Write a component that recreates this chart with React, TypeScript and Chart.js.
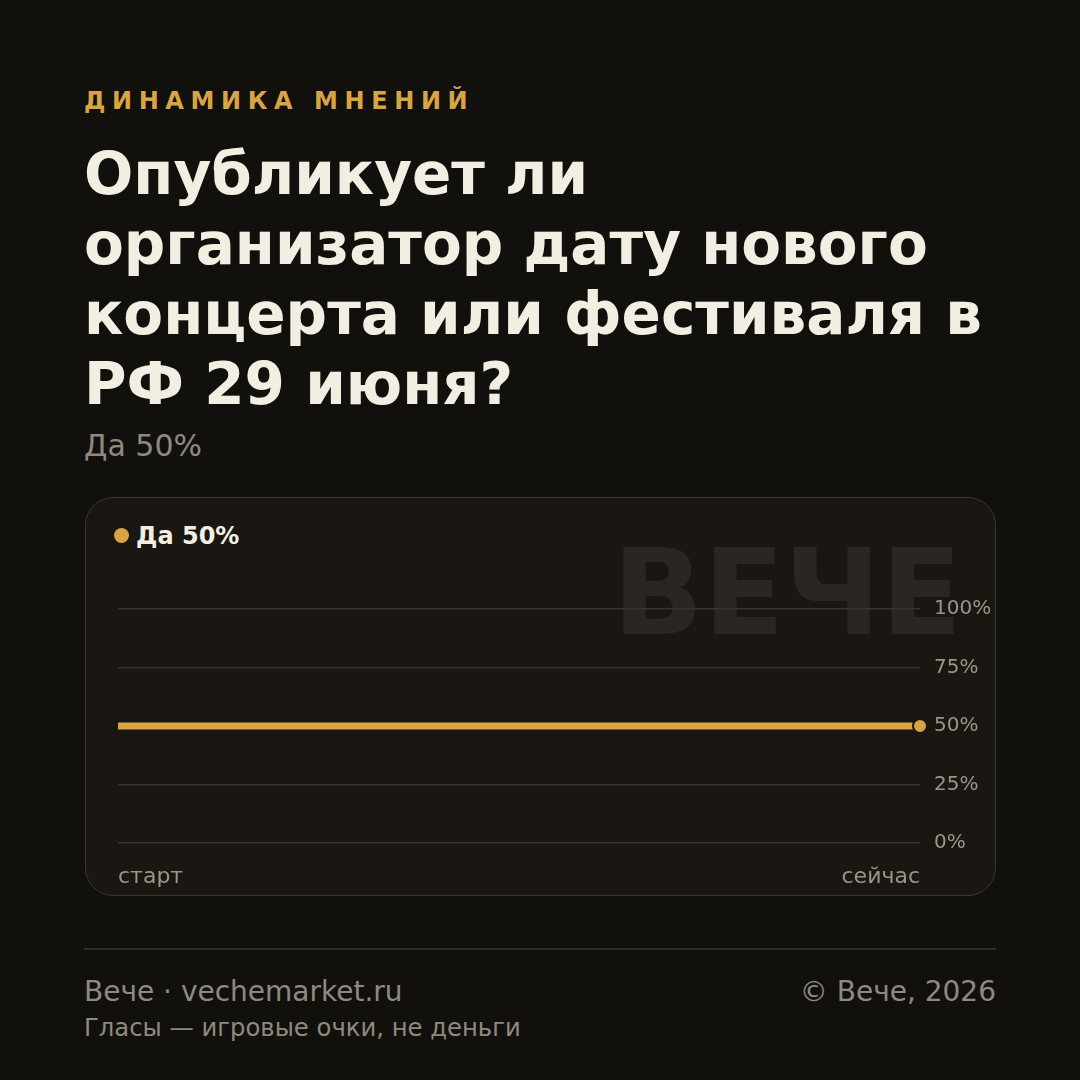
import React, { useEffect, useRef } from "react";
import { Chart, registerables } from "chart.js";

Chart.register(...registerables);

const categories = ["старт", "сейчас"];
const yesValues = [50, 50];
const yTicks = [0, 25, 50, 75, 100];
const seriesName = "Да 50%";

const BG = "#12100d";
const CARD = "#1a1713";
const GOLD = "#d9a444";
const MUTED = "#8f8a7e";
const TICK = "#9b9588";
const FONT = "'DejaVu Sans', sans-serif";

export default function App() {
  const ref = useRef<HTMLCanvasElement | null>(null);

  useEffect(() => {
    document.body.style.margin = "0";
    document.body.style.background = BG;
    const ctx = ref.current!;
    const chart = new Chart(ctx, {
      type: "line",
      data: {
        labels: categories,
        datasets: [
          {
            label: seriesName,
            data: yesValues,
            borderColor: GOLD,
            backgroundColor: GOLD,
            borderWidth: 7,
            borderCapStyle: "butt",
            pointRadius: yesValues.map((_, i) => (i === yesValues.length - 1 ? 7 : 0)),
            pointHoverRadius: 7,
            pointBackgroundColor: GOLD,
            pointBorderColor: CARD,
            pointBorderWidth: 2,
            clip: false as any,
            tension: 0,
          },
        ],
      },
      options: {
        animation: false,
        responsive: false,
        maintainAspectRatio: false,
        layout: { padding: { left: 32, top: 110, right: 0, bottom: 0 } },
        plugins: { legend: { display: false }, tooltip: { enabled: false } },
        scales: {
          x: {
            type: "category",
            offset: false,
            grid: { display: false, drawTicks: false },
            border: { display: false },
            ticks: {
              align: "inner",
              color: TICK,
              font: { family: FONT, size: 22 },
              padding: 21,
              maxRotation: 0,
              autoSkip: false,
            },
            afterFit: (s: any) => {
              s.height = 53;
            },
          },
          y: {
            position: "right",
            min: 0,
            max: 100,
            afterBuildTicks: (s: any) => {
              s.ticks = yTicks.map((v) => ({ value: v }));
            },
            grid: { color: "#37332d", lineWidth: 1.5, drawTicks: false },
            border: { display: false },
            ticks: {
              color: TICK,
              font: { family: FONT, size: 20 },
              padding: 14,
              callback: (v: any) => `${v}%`,
            },
            afterFit: (s: any) => {
              s.width = 76;
            },
          },
        },
      },
    });
    return () => chart.destroy();
  }, []);

  const abs = (o: React.CSSProperties): React.CSSProperties => ({ position: "absolute", ...o });

  return (
    <div
      style={{
        position: "absolute",
        left: 0,
        top: 0,
        width: 1080,
        height: 1080,
        background: BG,
        fontFamily: FONT,
        overflow: "hidden",
      }}
    >
      <div
        style={abs({
          left: 84,
          top: 89,
          fontSize: 24,
          lineHeight: "24px",
          fontWeight: 700,
          letterSpacing: "6.6px",
          color: GOLD,
          whiteSpace: "nowrap",
        })}
      >
        ДИНАМИКА МНЕНИЙ
      </div>
      <div
        style={abs({
          left: 84,
          top: 139,
          width: 930,
          fontSize: 58,
          lineHeight: "70px",
          fontWeight: 700,
          color: "#f3eee2",
        })}
      >
        Опубликует ли
        <br />
        организатор дату нового
        <br />
        концерта или фестиваля в
        <br />
        РФ 29 июня?
      </div>
      <div style={abs({ left: 84, top: 431, fontSize: 30, lineHeight: "30px", color: MUTED })}>Да 50%</div>

      <div
        style={abs({
          left: 85,
          top: 497,
          width: 911,
          height: 399,
          boxSizing: "border-box",
          background: CARD,
          border: "1px solid #3a362f",
          borderRadius: 28,
        })}
      />
      <div
        style={abs({
          left: 500,
          width: 462,
          top: 534,
          textAlign: "right",
          fontSize: 119,
          lineHeight: "119px",
          fontWeight: 700,
          color: "#2a2621",
          whiteSpace: "nowrap",
        })}
      >
        ВЕЧЕ
      </div>
      <div
        style={abs({
          left: 114,
          top: 528,
          width: 15,
          height: 15,
          borderRadius: "50%",
          background: GOLD,
        })}
      />
      <div
        style={abs({
          left: 136,
          top: 524,
          fontSize: 24,
          lineHeight: "24px",
          fontWeight: 700,
          color: "#f3eee2",
          whiteSpace: "nowrap",
        })}
      >
        {seriesName}
      </div>
      <canvas ref={ref} width={910} height={397} style={abs({ left: 86, top: 499, width: 910, height: 397 })} />

      <div style={abs({ left: 84, top: 948, width: 912, height: 2, background: "#2e2b26" })} />
      <div style={abs({ left: 84, top: 978, fontSize: 28, lineHeight: "28px", color: MUTED, whiteSpace: "nowrap" })}>
        Вече · vechemarket.ru
      </div>
      <div
        style={abs({
          left: 500,
          width: 496,
          textAlign: "right",
          top: 978,
          fontSize: 28,
          lineHeight: "28px",
          color: MUTED,
          whiteSpace: "nowrap",
        })}
      >
        © Вече, 2026
      </div>
      <div style={abs({ left: 84, top: 1016, fontSize: 24.3, lineHeight: "24px", color: MUTED, whiteSpace: "nowrap" })}>
        Гласы — игровые очки, не деньги
      </div>
    </div>
  );
}
